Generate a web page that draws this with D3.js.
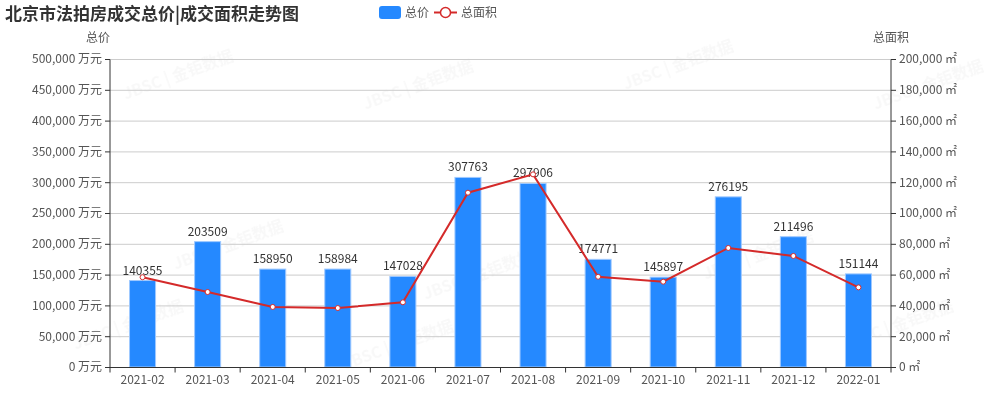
<!DOCTYPE html>
<html>
<head>
<meta charset="utf-8">
<script src="https://cdn.jsdelivr.net/npm/d3@7"></script>
<style>
  body { margin: 0; background: #fff; }
  text { font-family: "Noto Sans CJK SC", "Noto Sans", sans-serif; }
</style>
</head>
<body>
<script>
// chart data
var months = ["2021-02","2021-03","2021-04","2021-05","2021-06","2021-07","2021-08","2021-09","2021-10","2021-11","2021-12","2022-01"];
var totalPrice = [140355, 203509, 158950, 158984, 147028, 307763, 297906, 174771, 145897, 276195, 211496, 151144];
var totalArea = [58300, 48700, 39000, 38300, 42000, 113200, 125100, 58600, 55400, 77300, 72100, 51700];
var priceTicks = [0, 50000, 100000, 150000, 200000, 250000, 300000, 350000, 400000, 450000, 500000];
var areaTicks = [0, 20000, 40000, 60000, 80000, 100000, 120000, 140000, 160000, 180000, 200000];

var width = 1000, height = 400;
var margin = {left: 110, right: 109, top: 59, bottom: 33};

var svg = d3.select("body").append("svg")
    .attr("width", width)
    .attr("height", height);

var x = d3.scaleBand().domain(months).range([margin.left, width - margin.right]);
var yL = d3.scaleLinear().domain([0, 500000]).range([height - margin.bottom, margin.top]);
var yR = d3.scaleLinear().domain([0, 200000]).range([height - margin.bottom, margin.top]);

var fmt = d3.format(",");

// watermark
var wm = svg.append("g").attr("fill", "#000").attr("opacity", 0.028)
    .attr("font-size", 16).attr("font-weight", "bold");
[[180, 80], [420, 90], [680, 70], [930, 90], [230, 250], [480, 280], [760, 260], [130, 330], [400, 350], [900, 330]]
    .forEach(function(p){
        wm.append("text").attr("transform", "translate(" + p[0] + "," + p[1] + ") rotate(-20)")
            .attr("text-anchor", "middle").text("JBSC | 金钜数据");
    });

// grid
svg.append("g")
    .selectAll("line").data(priceTicks.slice(1)).enter()
    .append("line")
    .attr("x1", margin.left).attr("x2", width - margin.right)
    .attr("y1", d => yL(d) + 0.5).attr("y2", d => yL(d) + 0.5)
    .attr("stroke", "#ccc");

// bars
svg.append("g").selectAll("rect").data(totalPrice).enter()
    .append("rect")
    .attr("x", (d, i) => x(months[i]) + x.bandwidth() * 0.3)
    .attr("width", x.bandwidth() * 0.4)
    .attr("y", d => yL(d))
    .attr("height", d => yL(0) - yL(d))
    .attr("fill", "#2589ff")
    .attr("stroke", "#9fc9ff")
    .attr("stroke-width", 1);

svg.append("g").selectAll("text").data(totalPrice).enter()
    .append("text")
    .attr("x", (d, i) => x(months[i]) + x.bandwidth() / 2)
    .attr("y", d => yL(d) - 6)
    .attr("text-anchor", "middle")
    .attr("font-size", 12)
    .attr("fill", "#333")
    .text(d => d);

// line
var line = d3.line()
    .x((d, i) => x(months[i]) + x.bandwidth() / 2)
    .y(d => yR(d));

svg.append("path").datum(totalArea)
    .attr("d", line)
    .attr("fill", "none")
    .attr("stroke", "#d42a2a")
    .attr("stroke-width", 2);

svg.append("g").selectAll("circle").data(totalArea).enter()
    .append("circle")
    .attr("cx", (d, i) => x(months[i]) + x.bandwidth() / 2)
    .attr("cy", d => yR(d))
    .attr("r", 2.5)
    .attr("fill", "#fff")
    .attr("stroke", "#d42a2a")
    .attr("stroke-width", 1);

// axes
var leftAxis = d3.axisLeft(yL).tickValues(priceTicks).tickSize(5).tickPadding(3)
    .tickFormat(d => fmt(d) + " 万元");
var rightAxis = d3.axisRight(yR).tickValues(areaTicks).tickSize(5).tickPadding(3)
    .tickFormat(d => fmt(d) + " ㎡");
var bottomAxis = d3.axisBottom(x).tickSize(0).tickPadding(8);

function styleAxis(g){
    g.select(".domain").attr("stroke", "#333");
    g.selectAll(".tick line").attr("stroke", "#333");
    g.selectAll(".tick text").attr("fill", "#555").attr("font-size", 12)
        .style("font-family", '"Noto Sans CJK SC", sans-serif');
}

svg.append("g").attr("transform", "translate(" + margin.left + ",0)").call(leftAxis)
    .call(g => g.select(".domain").attr("d", "M" + (-5) + "," + (margin.top + 0.5) + "H0V" + (height - margin.bottom + 0.5)))
    .call(styleAxis);
svg.append("g").attr("transform", "translate(" + (width - margin.right) + ",0)").call(rightAxis)
    .call(g => g.select(".domain").attr("d", "M5," + (margin.top + 0.5) + "H0V" + (height - margin.bottom + 0.5)))
    .call(styleAxis);
var xg = svg.append("g").attr("transform", "translate(0," + (height - margin.bottom + 0.5) + ")").call(bottomAxis)
    .call(styleAxis);
xg.select(".domain").attr("d", "M" + margin.left + ",0H" + (width - margin.right));
xg.selectAll(".sep").data(months.concat(["end"])).enter()
    .append("line")
    .attr("x1", (d, i) => margin.left + i * x.bandwidth())
    .attr("x2", (d, i) => margin.left + i * x.bandwidth())
    .attr("y1", 0).attr("y2", 5)
    .attr("stroke", "#333");

// axis names
svg.append("text").attr("x", margin.left - 12).attr("y", 42).attr("text-anchor", "middle")
    .attr("font-size", 12).attr("fill", "#555").text("总价");
svg.append("text").attr("x", width - margin.right).attr("y", 42).attr("text-anchor", "middle")
    .attr("font-size", 12).attr("fill", "#555").text("总面积");

// title
svg.append("text").attr("x", 5).attr("y", 20)
    .attr("font-size", 17).attr("font-weight", "bold").attr("fill", "#333")
    .text("北京市法拍房成交总价|成交面积走势图");

// legend
var lg = svg.append("g").attr("font-size", 12).attr("fill", "#555");
lg.append("rect").attr("x", 379).attr("y", 6).attr("width", 22).attr("height", 13).attr("rx", 3)
    .attr("fill", "#2589ff");
lg.append("text").attr("x", 405).attr("y", 17).attr("fill", "#555").text("总价");
lg.append("line").attr("x1", 434).attr("x2", 457).attr("y1", 12.5).attr("y2", 12.5)
    .attr("stroke", "#d42a2a").attr("stroke-width", 2);
lg.append("circle").attr("cx", 445.5).attr("cy", 12.5).attr("r", 5)
    .attr("fill", "#fff").attr("stroke", "#d42a2a").attr("stroke-width", 1.5);
lg.append("text").attr("x", 461).attr("y", 17).attr("fill", "#555").text("总面积");
</script>
</body>
</html>
